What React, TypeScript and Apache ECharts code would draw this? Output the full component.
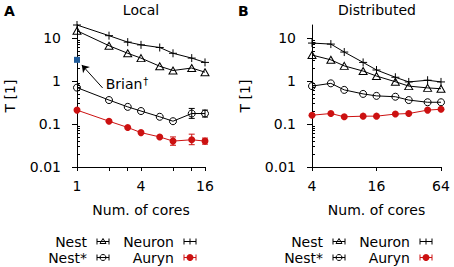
import React, { useEffect, useRef } from 'react';
import * as echarts from 'echarts';

const FONT = 'DejaVu Sans';
const RED = '#cc1111';
const BLUE = '#1f5b9a';

// Panel A: Local
const localCores = [1, 2, 3, 4, 6, 8, 12, 16];
const localNeuron = [20, 11.3, 8.0, 6.9, 6.0, 4.4, 3.4, 2.7];
const localNest = [14.7, 6.6, 4.4, 3.4, 2.2, 1.75, 2.0, 1.6];
const localNestStar = [0.7, 0.36, 0.25, 0.2, 0.147, 0.116, 0.175, 0.175];
const localAuryn = [0.21, 0.116, 0.083, 0.063, 0.05, 0.04, 0.043, 0.04];
const localNestStarErr = [
  [12, 0.135, 0.23],
  [16, 0.145, 0.21],
];
const localAurynErr = [
  [8, 0.032, 0.05],
  [12, 0.033, 0.058],
  [16, 0.034, 0.047],
];
const brianPoint = [[1, 3.1]];
const brianLabelAt = [[1.86, 0.85]];
const brianArrow = [
  [1.74, 0.69],
  [1.11, 2.36],
];

// Panel B: Distributed
const distCores = [4, 6, 8, 12, 16, 24, 32, 48, 64];
const distNeuron = [7.6, 7.2, 4.7, 2.7, 1.8, 1.22, 0.95, 1.04, 0.95];
const distNest = [4.0, 3.1, 2.24, 1.7, 1.3, 0.96, 0.76, 0.69, 0.66];
const distNestStar = [0.76, 0.88, 0.62, 0.5, 0.45, 0.43, 0.36, 0.32, 0.32];
const distAuryn = [0.16, 0.175, 0.147, 0.152, 0.152, 0.17, 0.175, 0.21, 0.22];

// Ticks
const yMajorTicks = [0.01, 0.1, 1, 10];
const yMinorTicks = [
  0.02, 0.03, 0.04, 0.05, 0.06, 0.07, 0.08, 0.09,
  0.2, 0.3, 0.4, 0.5, 0.6, 0.7, 0.8, 0.9,
  2, 3, 4, 5, 6, 7, 8, 9,
];
const localXTicks = [1, 2, 3, 4, 8, 12, 16];
const localXLabels = [1, 4, 16];
const distXTicks = [4, 16, 64];
const distXLabels = [4, 16, 64];

const titles = ['Local', 'Distributed'];
const panelLetters = ['A', 'B'];
const legendNames = [
  ['Nest', 'Neuron'],
  ['Nest*', 'Auryn'],
];

const PLUS = 'path://M0,5L10,5M5,0L5,10';

const txt = { color: '#000', fontFamily: FONT, fontSize: 14 };

function fmtY(v: number) {
  return v < 1 ? String(Number(v.toPrecision(1))) : String(Math.round(v));
}

function pairs(xs: number[], ys: number[]) {
  return xs.map((x, i) => [x, ys[i]]);
}

function errRender(color: string) {
  return (params: any, api: any) => {
    const x = api.value(0);
    const p1 = api.coord([x, api.value(1)]);
    const p2 = api.coord([x, api.value(2)]);
    const w = 3;
    const st = { stroke: color, lineWidth: 1 };
    return {
      type: 'group',
      children: [
        { type: 'line', shape: { x1: p1[0], y1: p1[1], x2: p2[0], y2: p2[1] }, style: st },
        { type: 'line', shape: { x1: p1[0] - w, y1: p1[1], x2: p1[0] + w, y2: p1[1] }, style: st },
        { type: 'line', shape: { x1: p2[0] - w, y1: p2[1], x2: p2[0] + w, y2: p2[1] }, style: st },
      ],
    };
  };
}

function makeXAxis(gi: number, min: number, max: number, ticks: number[], labels: number[]) {
  return {
    type: 'log',
    logBase: 2,
    gridIndex: gi,
    min,
    max,
    axisLine: { show: true, lineStyle: { color: '#000', width: 1 } },
    axisTick: { show: true, customValues: ticks, length: 4, lineStyle: { color: '#000' } },
    axisLabel: {
      ...txt,
      customValues: labels,
      margin: 12,
      formatter: (v: number) => String(Math.round(v)),
    },
    splitLine: { show: false },
    minorTick: { show: false },
    name: 'Num. of cores',
    nameLocation: 'middle',
    nameGap: 36,
    nameTextStyle: { ...txt },
  };
}

function makeYAxes(gi: number) {
  return [
    {
      type: 'log',
      gridIndex: gi,
      position: 'left',
      min: 0.01,
      max: 20,
      axisLine: { show: true, lineStyle: { color: '#000', width: 1 } },
      axisTick: { show: true, customValues: yMajorTicks, length: 5, lineStyle: { color: '#000' } },
      axisLabel: { ...txt, customValues: yMajorTicks, margin: 16, formatter: fmtY },
      splitLine: { show: false },
      name: 'T [1]',
      nameLocation: 'middle',
      nameGap: 60,
      nameRotate: 90,
      nameTextStyle: { ...txt },
    },
    {
      type: 'log',
      gridIndex: gi,
      position: 'left',
      offset: 0,
      min: 0.01,
      max: 20,
      axisLine: { show: false },
      axisTick: { show: true, inside: true, customValues: yMinorTicks, length: 3, lineStyle: { color: '#000' } },
      axisLabel: { show: false },
      splitLine: { show: false },
    },
  ];
}

function lineSeries(name: string, xi: number, data: number[][], kind: string) {
  const base: any = {
    name,
    type: 'line',
    xAxisIndex: xi,
    yAxisIndex: xi * 2,
    data,
    clip: false,
    lineStyle: { color: '#000', width: 1 },
    z: 3,
  };
  if (kind === 'tri') {
    base.symbol = 'triangle';
    base.symbolSize = [8, 7];
    base.itemStyle = { color: 'rgba(0,0,0,0)', borderColor: '#000', borderWidth: 1 };
  } else if (kind === 'circ') {
    base.symbol = 'circle';
    base.symbolSize = 7;
    base.itemStyle = { color: 'rgba(0,0,0,0)', borderColor: '#000', borderWidth: 1 };
  } else if (kind === 'plus') {
    base.symbol = PLUS;
    base.symbolSize = 8;
    base.itemStyle = { color: 'rgba(0,0,0,0)', borderColor: '#000', borderWidth: 1 };
  } else {
    base.symbol = 'circle';
    base.symbolSize = 7;
    base.lineStyle = { color: RED, width: 1 };
    base.itemStyle = { color: RED, borderWidth: 0 };
  }
  return base;
}

function legendGraphics(dx: number) {
  const out: any[] = [];
  const rows = [241.5, 257.5];
  const textRight = [87, 174];
  const kinds = [
    ['tri', 'plus'],
    ['circ', 'dot'],
  ];
  rows.forEach((y, r) => {
    textRight.forEach((tx, c) => {
      const cx = tx + 16 + dx;
      const kind = kinds[r][c];
      const color = kind === 'dot' ? RED : '#000';
      out.push({
        type: 'text',
        x: tx + dx,
        y,
        style: { text: legendNames[r][c], fill: '#000', align: 'right', verticalAlign: 'middle', font: `14px "${FONT}"` },
      });
      const st = { stroke: color, lineWidth: 1, fill: 'none' };
      out.push({ type: 'line', shape: { x1: cx - 6, y1: y, x2: cx + 6, y2: y }, style: st });
      out.push({ type: 'line', shape: { x1: cx - 6, y1: y - 3, x2: cx - 6, y2: y + 3 }, style: st });
      out.push({ type: 'line', shape: { x1: cx + 6, y1: y - 3, x2: cx + 6, y2: y + 3 }, style: st });
      if (kind === 'tri') {
        out.push({ type: 'polygon', shape: { points: [[cx - 3, y + 2], [cx + 3, y + 2], [cx, y - 3]] }, style: st });
      } else if (kind === 'circ') {
        out.push({ type: 'circle', shape: { cx, cy: y, r: 3 }, style: st });
      } else if (kind === 'plus') {
        out.push({ type: 'line', shape: { x1: cx, y1: y - 3, x2: cx, y2: y + 3 }, style: st });
      } else {
        out.push({ type: 'circle', shape: { cx, cy: y, r: 3.5 }, style: { fill: RED } });
      }
    });
  });
  return out;
}

export default function App() {
  const ref = useRef<HTMLDivElement>(null);
  useEffect(() => {
    if (!ref.current) return;
    const chart = echarts.init(ref.current, undefined, { renderer: 'svg' });
    const option: any = {
      animation: false,
      backgroundColor: '#fff',
      textStyle: { fontFamily: FONT },
      grid: [
        { left: 77, top: 25, width: 128, height: 142 },
        { left: 312, top: 25, width: 129, height: 142 },
      ],
      xAxis: [
        makeXAxis(0, 1, 16, localXTicks, localXLabels),
        makeXAxis(1, 4, 64, distXTicks, distXLabels),
      ],
      yAxis: [...makeYAxes(0), ...makeYAxes(1)],
      series: [
        lineSeries('Neuron', 0, pairs(localCores, localNeuron), 'plus'),
        lineSeries('Nest', 0, pairs(localCores, localNest), 'tri'),
        lineSeries('Nest*', 0, pairs(localCores, localNestStar), 'circ'),
        lineSeries('Auryn', 0, pairs(localCores, localAuryn), 'dot'),
        {
          type: 'custom',
          xAxisIndex: 0,
          yAxisIndex: 0,
          data: localNestStarErr,
          renderItem: errRender('#000'),
          clip: false,
          z: 2,
        },
        {
          type: 'custom',
          xAxisIndex: 0,
          yAxisIndex: 0,
          data: localAurynErr,
          renderItem: errRender(RED),
          clip: false,
          z: 2,
        },
        {
          name: 'Brian',
          type: 'scatter',
          xAxisIndex: 0,
          yAxisIndex: 0,
          data: brianPoint,
          symbol: 'rect',
          symbolSize: 6,
          itemStyle: { color: BLUE, opacity: 1 },
          z: 4,
          markLine: {
            silent: true,
            symbol: ['none', 'arrow'],
            symbolSize: 7,
            label: { show: false },
            lineStyle: { color: '#000', width: 1, type: 'solid', opacity: 1 },
            data: [[{ coord: brianArrow[0] }, { coord: brianArrow[1] }]],
          },
        },
        {
          type: 'scatter',
          xAxisIndex: 0,
          yAxisIndex: 0,
          data: brianLabelAt,
          symbolSize: 0,
          itemStyle: { opacity: 1 },
          label: {
            show: true,
            position: 'right',
            distance: 0,
            color: '#000',
            opacity: 1,
            formatter: '{a|Brian}{s|†}',
            rich: {
              a: { ...txt, opacity: 1 },
              s: { ...txt, fontSize: 10, padding: [0, 0, 6, 1], opacity: 1 },
            },
          },
        },
        lineSeries('Neuron', 1, pairs(distCores, distNeuron), 'plus'),
        lineSeries('Nest', 1, pairs(distCores, distNest), 'tri'),
        lineSeries('Nest*', 1, pairs(distCores, distNestStar), 'circ'),
        lineSeries('Auryn', 1, pairs(distCores, distAuryn), 'dot'),
      ],
      graphic: [
        { type: 'text', x: 4, y: 11, style: { text: panelLetters[0], fill: '#000', font: `bold 14px "${FONT}"`, verticalAlign: 'middle' } },
        { type: 'text', x: 238, y: 11, style: { text: panelLetters[1], fill: '#000', font: `bold 14px "${FONT}"`, verticalAlign: 'middle' } },
        { type: 'text', x: 141, y: 9.5, style: { text: titles[0], fill: '#000', font: `14px "${FONT}"`, align: 'center', verticalAlign: 'middle' } },
        { type: 'text', x: 377, y: 9.5, style: { text: titles[1], fill: '#000', font: `14px "${FONT}"`, align: 'center', verticalAlign: 'middle' } },
        ...legendGraphics(0),
        ...legendGraphics(236),
      ],
    };
    chart.setOption(option);
    return () => chart.dispose();
  }, []);
  return <div ref={ref} style={{ position: 'absolute', left: 0, top: 0, width: 454, height: 267 }} />;
}
